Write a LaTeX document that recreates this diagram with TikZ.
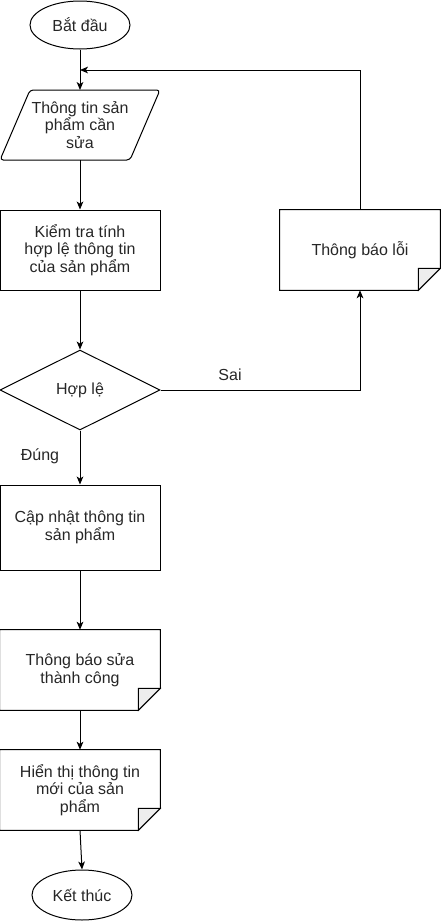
\documentclass[tikz,border=0pt]{standalone}
\usepackage{fontspec}
\setmainfont{Liberation Sans}
\usetikzlibrary{arrows.meta,shapes.geometric}
\begin{document}
\begin{tikzpicture}[x=0.75pt,y=-0.75pt,
  every node/.style={font=\fontsize{12}{13.3}\selectfont, align=center, inner sep=0pt, text=black!85},
  line/.style={draw=black, line width=0.75pt},
  arr/.style={line, -{Stealth[length=6pt,width=5pt,inset=1.6pt]}},
  box/.style={draw=black, line width=0.75pt, minimum width=120pt, minimum height=60pt},
  blank/.style={minimum width=120pt, minimum height=60pt},
  term/.style={ellipse, draw=black, line width=0.75pt, minimum width=75pt, minimum height=36pt},
  diam/.style={diamond, draw=black, line width=0.75pt, aspect=2, minimum width=120pt, minimum height=60pt, inner sep=0pt},
  foldfill/.style={fill=black!7, draw=black, line width=0.75pt, line join=miter}
]
\useasboundingbox (0,0) rectangle (441,921);

% start
\node[term] (bd) at (80,25) {Bắt đầu};

% parallelogram
\node[blank, minimum height=52.5pt] (ip) at (80,125) {Thông tin sản\\phẩm cần\\sửa};
\draw[line, rounded corners=2.5pt] (30,90) -- (160,90) -- (130,160) -- (0,160) -- cycle;

% check
\node[box] (kt) at (80,250) {Kiểm tra tính\\hợp lệ thông tin\\của sản phẩm};

% decision
\node[diam] (hl) at (80,390) {Hợp lệ};

% update
\node[box, minimum height=63.75pt] (cn) at (80,527.5) {Cập nhật thông tin\\sản phẩm};

% note: success
\node[blank] (ok) at (80,670) {Thông báo sửa\\thành công};
\draw[line] (ok.north west) -- (ok.north east) -- ([yshift=16.5pt]ok.south east) -- ([xshift=-16.5pt]ok.south east) -- (ok.south west) -- cycle;
\draw[foldfill] ([yshift=16.5pt]ok.south east) -- ([xshift=-16.5pt,yshift=16.5pt]ok.south east) -- ([xshift=-16.5pt]ok.south east) -- cycle;

% note: show
\node[blank] (ht) at (80,790) {Hiển thị thông tin\\mới của sản\\phẩm};
\draw[line] (ht.north west) -- (ht.north east) -- ([yshift=16.5pt]ht.south east) -- ([xshift=-16.5pt]ht.south east) -- (ht.south west) -- cycle;
\draw[foldfill] ([yshift=16.5pt]ht.south east) -- ([xshift=-16.5pt,yshift=16.5pt]ht.south east) -- ([xshift=-16.5pt]ht.south east) -- cycle;

% end
\node[term, minimum height=37.5pt] (kth) at (82,895) {Kết thúc};

% note: error
\node[blank] (loi) at (360,250) {Thông báo lỗi};
\draw[line] (loi.north west) -- (loi.north east) -- ([yshift=16.5pt]loi.south east) -- ([xshift=-16.5pt]loi.south east) -- (loi.south west) -- cycle;
\draw[foldfill] ([yshift=16.5pt]loi.south east) -- ([xshift=-16.5pt,yshift=16.5pt]loi.south east) -- ([xshift=-16.5pt]loi.south east) -- cycle;

\coordinate (m) at (80,70);

% connectors
\draw[arr] (bd.south) -- (80,90);
\draw[arr] (80,160) -- (kt.north);
\draw[arr] (kt.south) -- (hl.north);
\draw[arr] (hl.south) -- (cn.north);
\draw[arr] (cn.south) -- (ok.north);
\draw[arr] (ok.south) -- (ht.north);
\draw[arr] (ht.south) -- (kth.north);
\draw[arr] (hl.east) -| (loi.south);
\draw[arr] (loi.north) |- (m);

\node (dung) at (40,456) {Đúng};
\node (sai) at (230,375) {Sai};
\end{tikzpicture}
\end{document}
